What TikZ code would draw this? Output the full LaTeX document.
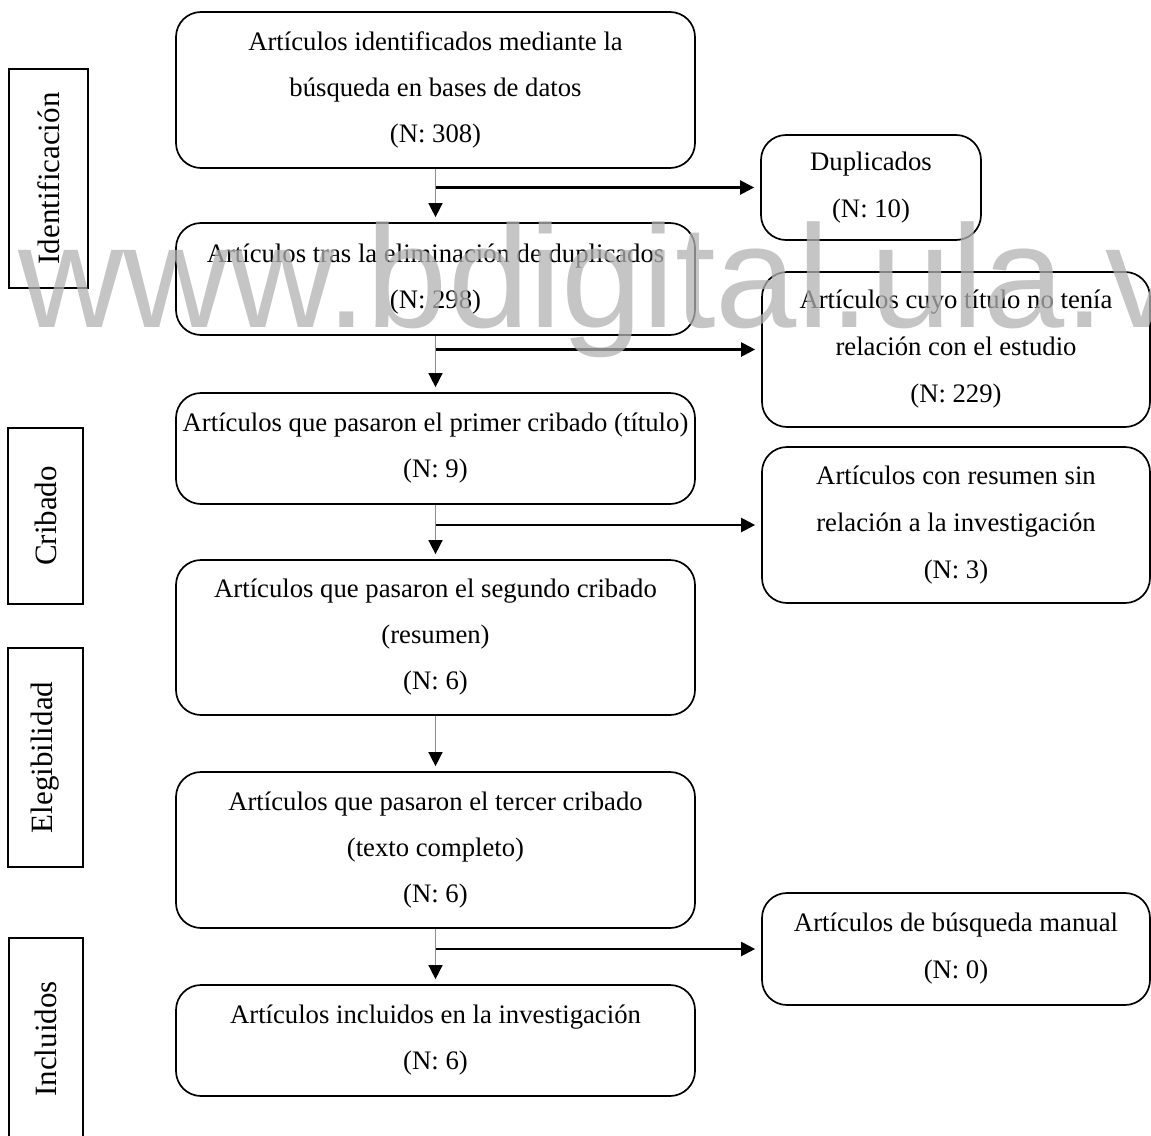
\documentclass[tikz,border=0pt]{standalone}
\usepackage{fontspec}
\setmainfont{Liberation Serif}
\newfontfamily\wmfont{Liberation Sans}
\usetikzlibrary{arrows.meta}
\definecolor{wmgray}{gray}{0.70}
\definecolor{conngray}{gray}{0.55}
\begin{document}
\begin{tikzpicture}[x=1pt,y=-1pt,
  mainbox/.style={draw, line width=1.7pt, rounded corners=25pt, minimum width=519pt, align=center, inner sep=2pt, font=\fontsize{26.7}{46}\selectfont},
  rbox/.style={draw, line width=1.7pt, rounded corners=25pt, align=center, inner sep=2pt, font=\fontsize{26.7}{47}\selectfont},
  sidebox/.style={draw, line width=1.7pt, rotate=90, inner sep=0pt, font=\fontsize{31}{36}\selectfont},
  vconn/.style={draw=conngray, line width=1.5pt, -{Triangle[length=14pt,width=14pt,color=black]}, shorten >=5pt},
  hconn/.style={draw=black, line width=2.2pt, -{Triangle[length=14pt,width=14pt]}, shorten >=6pt},
]
\useasboundingbox (0,0) rectangle (1151,1135);

% main column
\node[mainbox, minimum height=156pt] (b1) at (435.5,90) {Artículos identificados mediante la\\búsqueda en bases de datos\\(N: 308)};
\node[mainbox, minimum height=112pt] (b2) at (435.5,279) {Artículos tras la eliminación de duplicados\\(N: 298)};
\node[mainbox, minimum height=111pt] (b3) at (435.5,448.5) {Artículos que pasaron el primer cribado (título)\\(N: 9)};
\node[mainbox, minimum height=155pt] (b4) at (435.5,637.5) {Artículos que pasaron el segundo cribado\\(resumen)\\(N: 6)};
\node[mainbox, minimum height=156pt] (b5) at (435.5,850) {Artículos que pasaron el tercer cribado\\(texto completo)\\(N: 6)};
\node[mainbox, minimum height=111pt] (b6) at (435.5,1040.5) {Artículos incluidos en la investigación\\(N: 6)};

% right column
\node[rbox, minimum width=220pt, minimum height=105pt] (d1) at (871,187.5) {Duplicados\\(N: 10)};
\node[rbox, minimum width=388pt, minimum height=155pt] (d2) at (956,349.5) {Artículos cuyo título no tenía\\relación con el estudio\\(N: 229)};
\node[rbox, minimum width=388pt, minimum height=156pt] (d3) at (956,525) {Artículos con resumen sin\\relación a la investigación\\(N: 3)};
\node[rbox, minimum width=388pt, minimum height=112pt] (d4) at (956,949) {Artículos de búsqueda manual\\(N: 0)};

% side labels
\node[sidebox, minimum width=219pt, minimum height=79pt] (s1) at (48.5,178.5) {Identificación};
\node[sidebox, minimum width=176pt, minimum height=75pt] (s2) at (45.5,516) {Cribado};
\node[sidebox, minimum width=219pt, minimum height=75pt] (s3) at (45.5,757.5) {Elegibilidad};
\node[sidebox, minimum width=202pt, minimum height=74pt] (s4) at (46,1039) {Incluidos};

% connectors
\draw[vconn] (b1.south) -- (b2.north);
\draw[vconn] (b2.south) -- (b3.north);
\draw[vconn] (b3.south) -- (b4.north);
\draw[vconn] (b4.south) -- (b5.north);
\draw[vconn] (b5.south) -- (b6.north);
\draw[hconn] (b1.south |- d1.west) -- (d1.west);
\draw[hconn] (b2.south |- d2.west) -- (d2.west);
\draw[hconn] (b3.south |- d3.west) -- (d3.west);
\draw[hconn] (b5.south |- d4.west) -- (d4.west);

% watermark
\node[anchor=base west, inner sep=0pt, font=\wmfont\fontsize{146}{146}\selectfont, text=wmgray, text opacity=0.75] (wm) at (18,327) {www.bdigital.ula.ve};
\end{tikzpicture}
\end{document}
